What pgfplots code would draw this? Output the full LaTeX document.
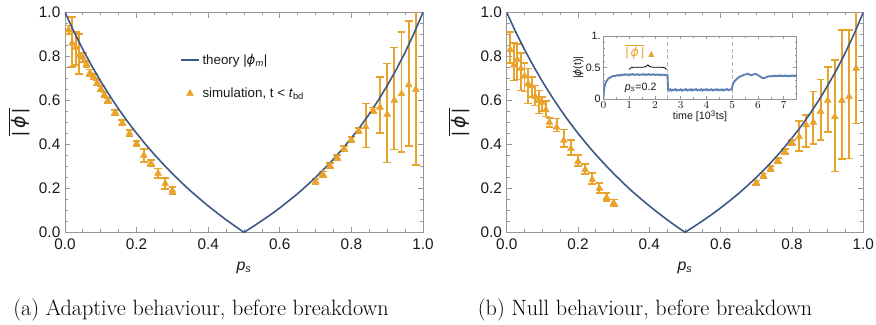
\documentclass[border=0pt]{standalone}
\usepackage{fontspec}
\setsansfont{Liberation Sans}
\newfontfamily\symfont{DejaVu Sans}
\usepackage{pgfplots}
\usepackage{pgfplotstable}
\pgfplotsset{compat=1.18}
\usetikzlibrary{decorations.pathreplacing}
\definecolor{thblue}{RGB}{60,88,135}
\definecolor{simor}{RGB}{232,163,45}
\definecolor{inblue}{RGB}{94,129,181}
\definecolor{frame}{RGB}{150,150,150}

\pgfplotstableread{
x y
0.000 1.000
0.025 0.912
0.050 0.831
0.075 0.756
0.100 0.686
0.125 0.621
0.150 0.560
0.175 0.503
0.200 0.450
0.225 0.400
0.250 0.353
0.275 0.309
0.300 0.267
0.325 0.227
0.350 0.189
0.375 0.154
0.400 0.120
0.425 0.088
0.450 0.057
0.475 0.028
0.500 0.000
0.525 0.026
0.550 0.053
0.575 0.081
0.600 0.111
0.625 0.143
0.650 0.176
0.675 0.212
0.700 0.250
0.725 0.290
0.750 0.333
0.775 0.379
0.800 0.429
0.825 0.481
0.850 0.538
0.875 0.600
0.900 0.667
0.925 0.739
0.950 0.818
0.975 0.905
1.000 1.000
}\theory

\pgfplotstableread{
x y ep em
0.01 0.920 0.020 0.020
0.02 0.860 0.120 0.110
0.03 0.840 0.070 0.080
0.04 0.805 0.095 0.085
0.05 0.795 0.020 0.020
0.06 0.765 0.015 0.015
0.07 0.725 0.015 0.015
0.08 0.708 0.012 0.012
0.09 0.680 0.012 0.012
0.10 0.652 0.012 0.012
0.11 0.625 0.012 0.012
0.12 0.600 0.012 0.012
0.14 0.545 0.012 0.012
0.16 0.498 0.012 0.012
0.18 0.450 0.015 0.015
0.20 0.403 0.012 0.012
0.22 0.350 0.030 0.030
0.24 0.315 0.015 0.015
0.26 0.268 0.022 0.022
0.28 0.222 0.025 0.025
0.30 0.190 0.015 0.015
0.70 0.230 0.012 0.012
0.72 0.265 0.012 0.012
0.74 0.303 0.012 0.012
0.76 0.340 0.012 0.012
0.78 0.380 0.012 0.012
0.80 0.420 0.012 0.012
0.82 0.462 0.012 0.012
0.84 0.480 0.105 0.095
0.86 0.556 0.012 0.012
0.88 0.568 0.137 0.118
0.90 0.536 0.232 0.219
0.92 0.600 0.240 0.223
0.94 0.630 0.282 0.266
0.96 0.670 0.292 0.278
0.98 0.650 0.360 0.345
}\simA

\pgfplotstableread{
x y ep em
0.01 0.830 0.080 0.060
0.02 0.760 0.100 0.070
0.03 0.785 0.070 0.090
0.04 0.745 0.070 0.100
0.05 0.710 0.060 0.070
0.06 0.675 0.070 0.090
0.07 0.665 0.040 0.050
0.08 0.617 0.050 0.040
0.09 0.600 0.045 0.060
0.10 0.590 0.025 0.040
0.11 0.556 0.040 0.030
0.12 0.500 0.020 0.020
0.14 0.478 0.040 0.020
0.16 0.418 0.050 0.030
0.18 0.380 0.040 0.030
0.20 0.322 0.030 0.020
0.22 0.285 0.025 0.020
0.24 0.240 0.030 0.020
0.26 0.200 0.025 0.020
0.28 0.158 0.020 0.015
0.30 0.134 0.015 0.015
0.70 0.226 0.010 0.010
0.72 0.258 0.010 0.010
0.74 0.290 0.012 0.012
0.76 0.326 0.012 0.012
0.78 0.367 0.012 0.012
0.80 0.408 0.012 0.012
0.82 0.435 0.070 0.065
0.84 0.488 0.045 0.100
0.86 0.500 0.140 0.100
0.88 0.550 0.145 0.130
0.90 0.600 0.153 0.143
0.92 0.525 0.258 0.249
0.94 0.600 0.320 0.268
0.96 0.617 0.303 0.281
0.98 0.745 0.260 0.250
}\simB

\pgfplotstableread{
t v
0.00 0.000
0.02 0.120
0.05 0.210
0.10 0.270
0.15 0.300
0.20 0.330
0.25 0.340
0.30 0.350
0.35 0.360
0.40 0.370
0.45 0.365
0.50 0.375
0.55 0.380
0.60 0.372
0.65 0.385
0.70 0.378
0.75 0.390
0.80 0.382
0.85 0.395
0.90 0.385
0.95 0.392
1.00 0.380
1.05 0.395
1.10 0.388
1.15 0.398
1.20 0.384
1.25 0.392
1.30 0.386
1.35 0.396
1.40 0.383
1.45 0.391
1.50 0.388
1.55 0.397
1.60 0.385
1.65 0.393
1.70 0.386
1.75 0.398
1.80 0.384
1.85 0.392
1.90 0.387
1.95 0.395
2.00 0.382
2.05 0.390
2.10 0.385
2.15 0.393
2.20 0.380
2.25 0.388
2.30 0.383
2.35 0.390
2.40 0.378
2.45 0.386
2.49 0.380
2.51 0.170
2.55 0.140
2.60 0.158
2.65 0.137
2.70 0.152
2.75 0.143
2.80 0.160
2.85 0.138
2.90 0.150
2.95 0.145
3.00 0.157
3.05 0.136
3.10 0.152
3.15 0.147
3.20 0.161
3.25 0.139
3.30 0.151
3.35 0.144
3.40 0.158
3.45 0.137
3.50 0.153
3.55 0.146
3.60 0.162
3.65 0.140
3.70 0.150
3.75 0.143
3.80 0.159
3.85 0.138
3.90 0.154
3.95 0.147
4.00 0.160
4.05 0.141
4.10 0.152
4.15 0.145
4.20 0.158
4.25 0.139
4.30 0.153
4.35 0.146
4.40 0.161
4.45 0.140
4.50 0.151
4.55 0.144
4.60 0.157
4.65 0.138
4.70 0.152
4.75 0.148
4.80 0.163
4.85 0.142
4.90 0.155
4.95 0.150
4.99 0.165
5.01 0.220
5.05 0.260
5.10 0.290
5.15 0.310
5.20 0.330
5.25 0.345
5.30 0.360
5.35 0.365
5.40 0.375
5.45 0.385
5.50 0.390
5.55 0.395
5.60 0.405
5.65 0.395
5.70 0.385
5.75 0.380
5.80 0.390
5.85 0.395
5.90 0.400
5.95 0.392
6.00 0.380
6.05 0.370
6.10 0.355
6.15 0.340
6.20 0.332
6.25 0.335
6.30 0.345
6.35 0.352
6.40 0.360
6.45 0.365
6.50 0.362
6.55 0.370
6.60 0.362
6.65 0.374
6.70 0.365
6.75 0.372
6.80 0.363
6.85 0.376
6.90 0.366
6.95 0.373
7.00 0.364
7.05 0.375
7.10 0.366
7.15 0.372
7.20 0.363
7.25 0.374
7.30 0.367
7.35 0.375
7.40 0.365
7.45 0.372
7.50 0.368
}\series

\newcommand{\vphi}{{\symfont\itshape ϕ}}
\newcommand{\phibar}{$\overline{\hbox{|\,\vphi\/\,|}}$}

\pgfplotsset{
  linelegend/.style={legend image code/.code={\draw[##1] (0pt,0pt) -- (13.5pt,0pt);}},
  marklegend/.style={legend image code/.code={\draw[##1,mark repeat=2,mark phase=2] plot coordinates {(0pt,0pt)(6.75pt,0pt)(13.5pt,0pt)};}},
  mainax/.style={
    scale only axis, width=268.5pt, height=165pt,
    xmin=0, xmax=1, ymin=0, ymax=1,
    xtick={0,0.2,0.4,0.6,0.8,1}, ytick={0,0.2,0.4,0.6,0.8,1},
    xticklabels={0.0,0.2,0.4,0.6,0.8,1.0},
    yticklabels={0.0,0.2,0.4,0.6,0.8,1.0},
    minor tick num=3, tick align=inside,
    axis line style={frame, line width=0.6pt},
    every tick/.style={frame, line width=0.6pt},
    major tick length=4pt, minor tick length=2.3pt,
    tick label style={font=\sffamily\fontsize{11.5}{13}\selectfont, text=black!90},
    xticklabel style={yshift=-1pt},
    xlabel={\textit{p}\textsubscript{\textit{s}}},
    xlabel style={at={(axis description cs:0.5,-0.16)}, anchor=center, font=\sffamily\fontsize{12}{13}\selectfont, text=black!90},
    ylabel={\phibar},
    ylabel style={anchor=center, font=\sffamily\fontsize{14}{15}\selectfont, text=black!90},
    clip=true,
  },
  simstyle/.style={
    only marks, mark=triangle*, mark size=2.9pt, color=simor,
    mark options={fill=simor, draw=simor},
    error bars/y dir=both, error bars/y explicit,
    error bars/error bar style={line width=1.45pt, color=simor},
    error bars/error mark options={rotate=90, mark size=2.9pt, line width=1.3pt, color=simor},
  },
}

\begin{document}
\begin{tikzpicture}
\useasboundingbox (0,0) rectangle (657pt,243.75pt);

% ---------- panel (a)
\begin{axis}[mainax, at={(48.75pt,69.5pt)}, anchor=south west,
  ylabel style={at={(axis description cs:-0.128,0.5)}},
  legend cell align=left,
  legend style={at={(axis description cs:0.31,0.835)}, anchor=north west, draw=none, fill=none,
    font=\sffamily\fontsize{10}{12}\selectfont, row sep=12pt, text=black!90},
]
\addplot[simstyle, forget plot]
  table[x=x, y=y, y error plus=ep, y error minus=em]{\simA};
\addplot[linelegend, thblue, line width=1.2pt]
  table[x=x, y=y]{\theory};
\addlegendentry{theory |\vphi\textsubscript{\textit{m}}|}
\addlegendimage{marklegend, only marks, mark=triangle*, mark size=2.9pt, simor, mark options={fill=simor, draw=simor}}
\addlegendentry{simulation, t < \textit{t}\textsubscript{bd}}
\end{axis}

% ---------- panel (b)
\begin{axis}[mainax, at={(380pt,69.5pt)}, anchor=south west, width=267.5pt,
  ylabel style={at={(axis description cs:-0.134,0.5)}},
]
\addplot[simstyle] table[x=x, y=y, y error plus=ep, y error minus=em]{\simB};
\addplot[thblue, line width=1.2pt] table[x=x, y=y]{\theory};
\end{axis}

% ---------- inset
\begin{axis}[at={(452.5pt,169.3pt)}, anchor=south west,
  scale only axis, width=145pt, height=47.5pt,
  xmin=0, xmax=7.5, ymin=0, ymax=1,
  xtick={0,1,2,3,4,5,6,7}, ytick={0,0.5,1}, yticklabels={0,0.5,1.},
  minor x tick num=1, minor y tick num=4,
  tick align=inside,
  axis line style={frame, line width=0.6pt},
  every tick/.style={frame, line width=0.5pt},
  major tick length=2.5pt, minor tick length=1.5pt,
  tick label style={font=\sffamily\fontsize{8}{9}\selectfont, text=black!90},
  xticklabel style={yshift=2pt},
  yticklabel style={xshift=1.5pt},
  xlabel={time [10\textsuperscript{3}ts]},
  xlabel style={at={(axis description cs:0.5,-0.27)}, anchor=center, font=\sffamily\fontsize{8}{9}\selectfont, text=black!90},
  ylabel={|\vphi(t)|},
  ylabel style={at={(axis description cs:-0.13,0.5)}, anchor=center, font=\sffamily\fontsize{8}{9}\selectfont, text=black!90},
  axis background/.style={fill=white},
]
\addplot[black!30, densely dashed, line width=0.6pt] coordinates {(2.5,0) (2.5,1)};
\addplot[black!30, densely dashed, line width=0.6pt] coordinates {(5,0) (5,1)};
\addplot[inblue, line width=1.4pt] table[x=t, y=v]{\series};
\draw[decorate, decoration={brace, amplitude=3.5pt}, line width=0.6pt] (axis cs:1.0,0.47) -- (axis cs:2.45,0.47);
\node[anchor=west, inner sep=0pt, text=simor, font=\sffamily\fontsize{9.5}{10}\selectfont] at (axis cs:0.84,0.75) {\phibar\hspace{3pt}{\symfont\fontsize{6}{6}\selectfont ▲}};
\node[font=\sffamily\fontsize{8}{9}\selectfont, text=black!90] at (axis cs:1.45,0.18) {\textit{p}\textsubscript{\textit{s}}=0.2};
\end{axis}

% ---------- captions
\node[font=\fontsize{16.6}{18}\selectfont] at (150.75pt,11.25pt) {(a) Adaptive behaviour, before breakdown};
\node[font=\fontsize{16.6}{18}\selectfont] at (483.75pt,11.25pt) {(b) Null behaviour, before breakdown};
\end{tikzpicture}
\end{document}
